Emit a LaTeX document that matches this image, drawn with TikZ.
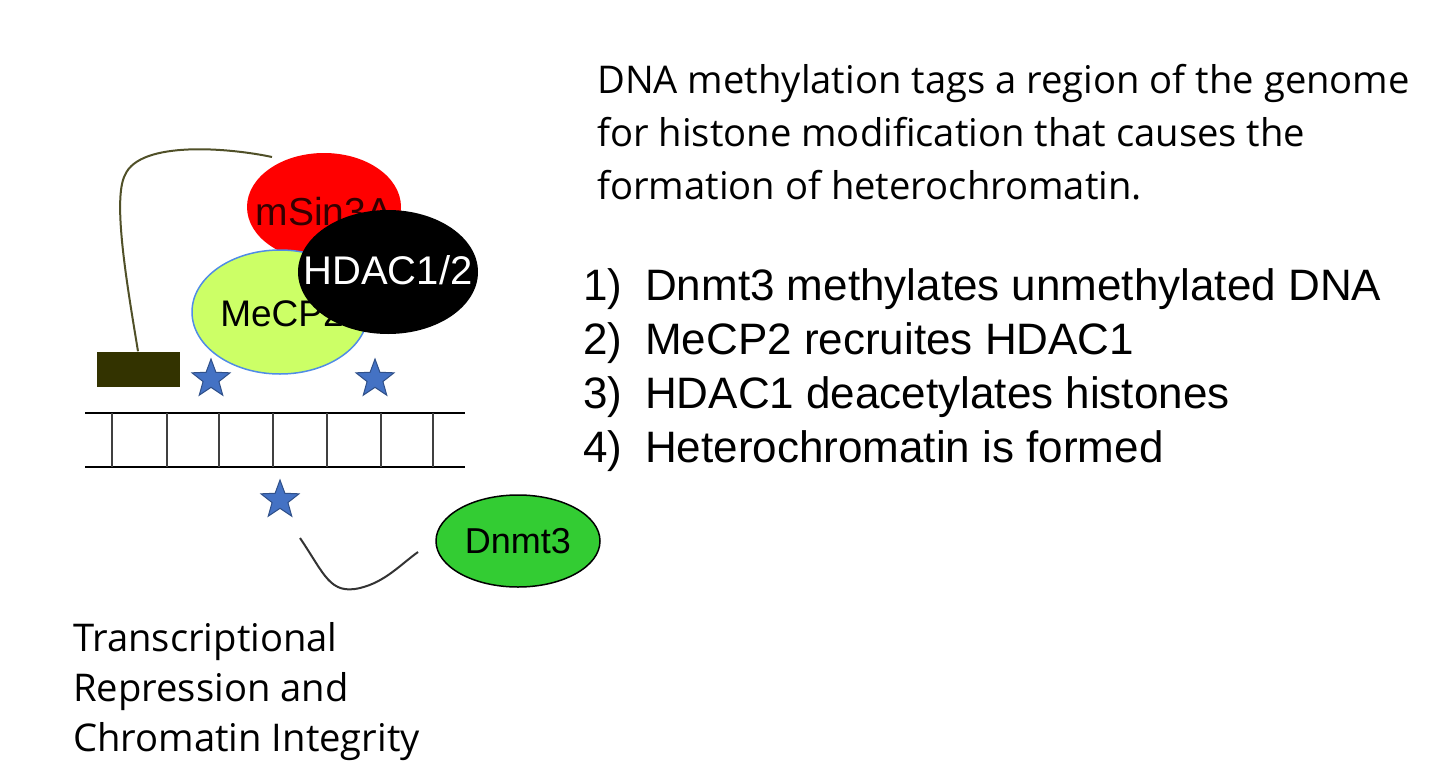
\documentclass[tikz,border=0pt]{standalone}
\usepackage{fontspec}
\setmainfont{Open Sans}
\newfontfamily\arialf{Liberation Sans}
\usetikzlibrary{shapes.geometric}
\definecolor{starblue}{HTML}{4472C4}
\begin{document}
\begin{tikzpicture}[x=1pt,y=-1pt,
  st/.style={star,star points=5,star point ratio=2.4,minimum size=40pt,inner sep=0pt,fill=starblue,draw=starblue!70!black,line width=1pt},
  ov/.style={ellipse,inner sep=0pt},
  txt/.style={anchor=base west,inner sep=0pt,font=\fontsize{38.2}{40}\selectfont},
  lst/.style={anchor=base west,inner sep=0pt,font=\arialf\fontsize{44}{48}\selectfont}]
\useasboundingbox (0,0) rectangle (1440,779);
\node[ov,fill=red,minimum width=154pt,minimum height=108pt] (msin) at (324,207) {};
\node[font=\arialf\fontsize{39}{40}\selectfont,text=black!80!red] (msinl) at (324,212) {mSin3A};
\node[ov,fill={rgb,255:red,204;green,255;blue,102},draw={rgb,255:red,80;green,140;blue,230},line width=1.5pt,minimum width=176pt,minimum height=124pt] (mecp) at (280,312) {};
\node[font=\arialf\fontsize{37}{40}\selectfont] (mecpl) at (282,314) {MeCP2};
\node[ov,fill=black,minimum width=180pt,minimum height=124pt] (hdac) at (388,272) {};
\node[font=\arialf\fontsize{40}{42}\selectfont,text=white] (hdacl) at (388,270) {HDAC1/2};
\node[fill={rgb,255:red,51;green,51;blue,0},minimum width=83pt,minimum height=35pt,inner sep=0pt] (rect) at (138,369) {};
\coordinate (lend) at (272,157);
\draw[line width=2pt,color={rgb,255:red,80;green,80;blue,40}] (rect.north) .. controls (128,290) and (112,200) .. (125,175) .. controls (140,140) and (230,148) .. (lend);
\draw[line width=2pt] (85,413) -- (465,413) (85,467) -- (465,467);
\foreach \x in {112,167,219,273,327,381,433} \draw[line width=2pt,black!75] (\x,413) -- (\x,467);
\node[st] (s1) at (211,379) {};
\node[st] (s2) at (375,379) {};
\node[st] (s3) at (280,500) {};
\node[ov,fill={rgb,255:red,51;green,204;blue,51},draw=black,line width=1.5pt,minimum width=164pt,minimum height=92pt,font=\arialf\fontsize{36}{38}\selectfont] (dn) at (518,541) {Dnmt3};
\coordinate (cs) at (300,538);
\draw[line width=2pt,black!80] (cs) .. controls (325,575) and (330,595) .. (360,588) .. controls (385,582) and (400,565) .. (418,552);
\node[txt] (t1) at (73,651) {Transcriptional};
\node[txt] (t2) at (73,701) {Repression and};
\node[txt] (t3) at (73,751) {Chromatin Integrity};
\node[txt] (p1) at (597,93) {DNA methylation tags a region of the genome};
\node[txt] (p2) at (597,146) {for histone modification that causes the};
\node[txt] (p3) at (597,199) {formation of heterochromatin.};
\node[lst] (n1) at (583,300) {1)};
\node[lst] (l1) at (645,300) {Dnmt3 methylates unmethylated DNA};
\node[lst] (n2) at (583,354) {2)};
\node[lst] (l2) at (645,354) {MeCP2 recruites HDAC1};
\node[lst] (n3) at (583,408) {3)};
\node[lst] (l3) at (645,408) {HDAC1 deacetylates histones};
\node[lst] (n4) at (583,462) {4)};
\node[lst] (l4) at (645,462) {Heterochromatin is formed};
\end{tikzpicture}
\end{document}
